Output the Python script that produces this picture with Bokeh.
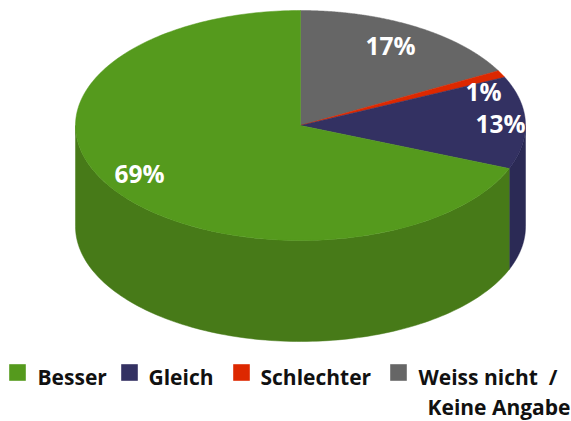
import numpy as np
from bokeh.plotting import figure
from bokeh.embed import file_html
from bokeh.resources import INLINE
from bokeh.core.properties import value

categories = ["Weiss nicht / Keine Angabe", "Schlechter", "Gleich", "Besser"]
shares = [17.1, 1.0, 13.0, 68.9]
labels = ["17%", "1%", "13%", "69%"]
label_x = [390, 483, 500, 139]
label_y = [45, 91, 123, 173]
top_colors = ["#666666", "#DD2800", "#333162", "#559A1D"]
side_colors = ["#555555", "#B82100", "#2B2A55", "#477A18"]
legend_names = ["Besser", "Gleich", "Schlechter", "Weiss nicht \u00a0/"]
legend_colors = ["#559A1D", "#333162", "#DD2800", "#666666"]
legend_marker_x = [17, 129, 241, 398]
legend_text_x = [37, 148, 260, 418]
FONT = value("Open Sans")

CX, CY, RX, RY, DEPTH = 300, 125, 225, 115, 101

p = figure(width=571, height=421, x_range=(0, 571), y_range=(421, 0),
           output_backend="svg", toolbar_location=None,
           min_border=0, outline_line_color=None)
p.axis.visible = False
p.grid.visible = False

def ex(t):
    return CX + RX * np.sin(t)

def ey(t):
    return CY + RY * np.cos(t) * -1

edges = np.radians(np.cumsum([0] + shares) * 3.6)

# Side wall: only the part facing the viewer (90..270 degrees) is visible
for i in range(len(shares)):
    a, b = max(edges[i], np.pi / 2), min(edges[i + 1], 3 * np.pi / 2)
    if b <= a:
        continue
    t = np.linspace(a, b, 120)
    xs = np.r_[ex(t), ex(t[::-1])]
    ys = np.r_[ey(t), ey(t[::-1]) + DEPTH]
    p.patch(xs, ys, fill_color=side_colors[i], line_color=side_colors[i], line_width=0.5)

# Top face
for i in range(len(shares)):
    t = np.linspace(edges[i], edges[i + 1], 240)
    xs = np.r_[CX, ex(t)]
    ys = np.r_[CY, ey(t)]
    p.patch(xs, ys, fill_color=top_colors[i], line_color=top_colors[i], line_width=0.5)

p.text(label_x, label_y, text=labels, text_color="white", text_font=FONT,
       text_font_style="bold", text_font_size="24.5px", text_align="center", text_baseline="middle")

p.scatter(legend_marker_x, [372] * 4, marker="square", size=16,
          fill_color=legend_colors, line_color=legend_colors, line_alpha=0.6)
p.text(legend_text_x, [376] * 4, text=legend_names, text_color="#111111", text_font=FONT,
       text_font_style="bold", text_font_size="21px", text_align="left", text_baseline="middle")
p.text([570], [406], text=["Keine Angabe"], text_color="#111111", text_font=FONT,
       text_font_style="bold", text_font_size="21px", text_align="right", text_baseline="middle")

open("out.html", "w").write(file_html(p, INLINE))
